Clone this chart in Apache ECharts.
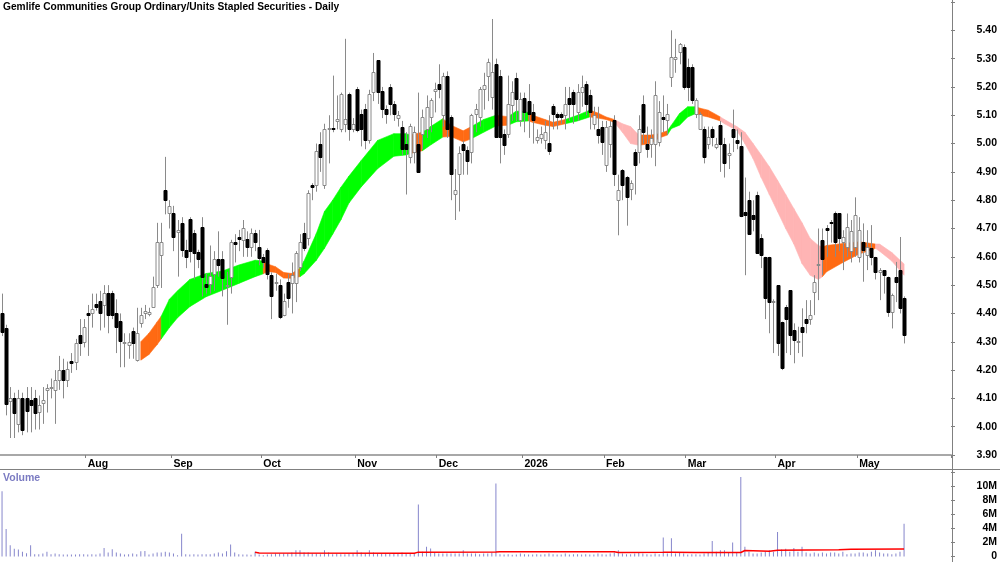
<!DOCTYPE html>
<html>
<head>
<meta charset="utf-8">
<title>Gemlife Communities Group - Daily</title>
<script src="https://cdn.jsdelivr.net/npm/echarts@6/dist/echarts.min.js"></script>
<style>
    html, body { margin: 0; padding: 0; background: #fff; }
    #chart { width: 1000px; height: 562px; }
</style>
</head>
<body>
<div id="chart"></div>
<script>
    // one row per trading day, early Jul 2025 -> 19 May 2026: [open, close, low, high]
    var candles = [
        [4.40, 4.335, 4.32, 4.47], [4.35, 4.08, 4.04, 4.36], [4.09, 4.10, 3.96, 4.14], [4.10, 4.05, 3.96, 4.12],
        [4.01, 4.10, 3.98, 4.13], [4.10, 3.99, 3.97, 4.12], [4.10, 4.055, 3.98, 4.14], [4.095, 4.075, 3.98, 4.14],
        [4.10, 4.05, 3.99, 4.13], [4.053, 4.077, 3.99, 4.11], [4.082, 4.094, 4.01, 4.14], [4.13, 4.135, 4.05, 4.15],
        [4.135, 4.14, 4.10, 4.17], [4.13, 4.165, 4.01, 4.20], [4.165, 4.20, 4.13, 4.25], [4.20, 4.165, 4.10, 4.24],
        [4.165, 4.205, 4.14, 4.23], [4.232, 4.224, 4.19, 4.26], [4.23, 4.294, 4.20, 4.31], [4.323, 4.294, 4.25, 4.38],
        [4.30, 4.353, 4.28, 4.38], [4.402, 4.394, 4.25, 4.43], [4.402, 4.414, 4.35, 4.47], [4.432, 4.423, 4.41, 4.47],
        [4.443, 4.402, 4.34, 4.48], [4.43, 4.473, 4.35, 4.50], [4.473, 4.394, 4.33, 4.50], [4.473, 4.394, 4.38, 4.48],
        [4.40, 4.353, 4.26, 4.45], [4.373, 4.302, 4.21, 4.40], [4.294, 4.30, 4.21, 4.33], [4.29, 4.30, 4.24, 4.33],
        [4.338, 4.294, 4.24, 4.35], [4.235, 4.332, 4.23, 4.42], [4.365, 4.395, 4.35, 4.42], [4.40, 4.41, 4.38, 4.43],
        [4.398, 4.405, 4.39, 4.42], [4.424, 4.494, 4.42, 4.53], [4.50, 4.653, 4.49, 4.72], [4.606, 4.653, 4.49, 4.72],
        [4.835, 4.80, 4.75, 4.953], [4.753, 4.78, 4.70, 4.80], [4.753, 4.67, 4.62, 4.78], [4.688, 4.695, 4.53, 4.73],
        [4.718, 4.624, 4.60, 4.74], [4.624, 4.60, 4.56, 4.66], [4.732, 4.62, 4.58, 4.74], [4.683, 4.612, 4.52, 4.695],
        [4.618, 4.594, 4.56, 4.625], [4.704, 4.53, 4.46, 4.74], [4.504, 4.494, 4.47, 4.54], [4.504, 4.532, 4.47, 4.64],
        [4.541, 4.594, 4.48, 4.62], [4.594, 4.57, 4.53, 4.69], [4.594, 4.524, 4.46, 4.62], [4.496, 4.502, 4.36, 4.547],
        [4.53, 4.653, 4.47, 4.66], [4.653, 4.644, 4.58, 4.68], [4.67, 4.662, 4.62, 4.695], [4.659, 4.70, 4.60, 4.73],
        [4.662, 4.633, 4.60, 4.69], [4.635, 4.683, 4.60, 4.70], [4.683, 4.653, 4.62, 4.695], [4.635, 4.595, 4.57, 4.695],
        [4.60, 4.582, 4.56, 4.61], [4.624, 4.541, 4.52, 4.63], [4.535, 4.46, 4.38, 4.545], [4.507, 4.512, 4.48, 4.54],
        [4.50, 4.388, 4.38, 4.52], [4.394, 4.445, 4.39, 4.47], [4.512, 4.453, 4.42, 4.54], [4.506, 4.535, 4.40, 4.58],
        [4.506, 4.612, 4.44, 4.62], [4.565, 4.653, 4.55, 4.68], [4.683, 4.63, 4.62, 4.72], [4.665, 4.826, 4.64, 4.835],
        [4.853, 4.845, 4.80, 4.86], [4.853, 4.975, 4.83, 5.00], [5.00, 4.953, 4.90, 5.04], [4.853, 5.053, 4.84, 5.07],
        [5.05, 5.055, 4.93, 5.10], [5.055, 5.05, 5.04, 5.24], [5.08, 5.088, 5.05, 5.17], [5.053, 5.174, 5.04, 5.18],
        [5.07, 5.085, 5.04, 5.37], [5.176, 5.053, 5.01, 5.18], [5.05, 5.07, 5.04, 5.09], [5.194, 5.047, 5.04, 5.20],
        [5.106, 5.053, 4.99, 5.12], [5.123, 5.011, 4.98, 5.14], [5.011, 5.174, 5.00, 5.19], [5.182, 5.253, 5.15, 5.32],
        [5.294, 5.182, 5.14, 5.295], [5.186, 5.123, 5.09, 5.20], [5.123, 5.106, 5.07, 5.135], [5.20, 5.14, 5.10, 5.21],
        [5.14, 5.106, 5.08, 5.15], [5.09, 5.102, 5.06, 5.115], [5.06, 4.982, 4.96, 5.08], [5.00, 4.982, 4.82, 5.04],
        [4.953, 5.061, 4.93, 5.07], [4.97, 5.04, 4.93, 5.06], [5.00, 4.90, 4.90, 5.18], [5.035, 5.094, 4.98, 5.12],
        [5.05, 5.13, 5.02, 5.17], [5.094, 5.153, 5.04, 5.16], [5.185, 5.194, 5.11, 5.215], [5.211, 5.194, 5.16, 5.28],
        [5.10, 5.24, 5.06, 5.25], [5.24, 5.053, 5.02, 5.255], [5.094, 4.894, 4.80, 5.10], [4.823, 4.835, 4.73, 4.91],
        [4.894, 4.965, 4.76, 4.99], [5.00, 4.976, 4.89, 5.01], [4.976, 4.94, 4.89, 4.99], [4.97, 5.10, 4.93, 5.105],
        [5.106, 5.123, 5.04, 5.14], [5.094, 5.194, 5.06, 5.20], [5.194, 5.206, 5.12, 5.25], [5.24, 5.288, 5.15, 5.30],
        [5.164, 5.253, 5.12, 5.44], [5.282, 5.023, 5.02, 5.30], [5.24, 5.023, 4.93, 5.26], [5.035, 4.994, 4.96, 5.05],
        [5.035, 5.141, 5.02, 5.24], [5.135, 5.182, 5.08, 5.22], [5.233, 5.159, 5.08, 5.25], [5.082, 5.159, 5.06, 5.18],
        [5.162, 5.111, 5.04, 5.18], [5.15, 5.106, 5.02, 5.21], [5.111, 5.082, 5.00, 5.14], [5.014, 5.023, 5.00, 5.05],
        [5.021, 5.033, 5.00, 5.06], [5.014, 5.041, 4.98, 5.08], [5.002, 4.974, 4.96, 5.10], [5.131, 5.106, 5.05, 5.14],
        [5.103, 5.094, 5.05, 5.11], [5.103, 5.094, 5.07, 5.11], [5.10, 5.141, 5.05, 5.20], [5.162, 5.141, 5.08, 5.20],
        [5.182, 5.141, 5.07, 5.19], [5.111, 5.182, 5.08, 5.21], [5.182, 5.20, 5.13, 5.24], [5.211, 5.141, 5.10, 5.22],
        [5.17, 5.111, 5.05, 5.19], [5.07, 5.10, 5.05, 5.13], [5.053, 5.029, 5.00, 5.13], [5.059, 5.006, 4.96, 5.08],
        [4.923, 5.059, 4.90, 5.08], [5.00, 5.061, 4.95, 5.08], [5.082, 4.894, 4.85, 5.10], [4.80, 4.835, 4.676, 4.89],
        [4.906, 4.853, 4.80, 4.91], [4.882, 4.812, 4.71, 4.885], [4.841, 4.861, 4.80, 4.87], [4.97, 4.923, 4.82, 4.98],
        [4.97, 5.053, 4.93, 5.10], [5.141, 5.041, 5.00, 5.17], [5.00, 4.98, 4.95, 5.06], [5.00, 5.02, 4.95, 5.05],
        [5.00, 5.17, 4.92, 5.22], [5.006, 5.112, 4.99, 5.15], [5.094, 5.085, 5.04, 5.17], [5.082, 5.106, 5.03, 5.14],
        [5.235, 5.306, 5.20, 5.40], [5.30, 5.306, 5.25, 5.37], [5.324, 5.353, 5.28, 5.355], [5.341, 5.20, 5.19, 5.35],
        [5.27, 5.20, 5.15, 5.30], [5.27, 5.153, 5.14, 5.28], [5.106, 5.153, 5.09, 5.16], [5.053, 5.106, 5.05, 5.11],
        [5.053, 4.953, 4.93, 5.06], [5.00, 5.024, 4.98, 5.06], [5.053, 5.024, 4.99, 5.06], [4.988, 5.00, 4.98, 5.02],
        [5.065, 5.00, 4.90, 5.08], [5.00, 4.93, 4.88, 5.02], [4.96, 4.965, 4.91, 5.00], [5.053, 5.024, 4.97, 5.12],
        [5.014, 5.003, 4.98, 5.05], [4.99, 4.745, 4.74, 5.04], [4.76, 4.747, 4.535, 4.88], [4.80, 4.682, 4.68, 4.83],
        [4.747, 4.735, 4.69, 4.80], [4.82, 4.612, 4.61, 4.83], [4.665, 4.606, 4.56, 4.68], [4.60, 4.453, 4.38, 4.60],
        [4.60, 4.441, 4.33, 4.60], [4.44, 4.443, 4.26, 4.45], [4.50, 4.294, 4.25, 4.50], [4.371, 4.206, 4.20, 4.371],
        [4.424, 4.382, 4.26, 4.43], [4.482, 4.324, 4.253, 4.482], [4.341, 4.306, 4.224, 4.365], [4.298, 4.302, 4.26, 4.353],
        [4.353, 4.335, 4.247, 4.418], [4.382, 4.365, 4.33, 4.447], [4.382, 4.394, 4.36, 4.447], [4.476, 4.512, 4.394, 4.535],
        [4.57, 4.576, 4.447, 4.70], [4.659, 4.594, 4.535, 4.70], [4.70, 4.694, 4.60, 4.712], [4.724, 4.718, 4.65, 4.73],
        [4.753, 4.653, 4.60, 4.76], [4.753, 4.665, 4.62, 4.753], [4.653, 4.67, 4.553, 4.694], [4.635, 4.706, 4.60, 4.753],
        [4.62, 4.69, 4.58, 4.73], [4.635, 4.747, 4.60, 4.81], [4.60, 4.694, 4.58, 4.74], [4.653, 4.624, 4.512, 4.718],
        [4.606, 4.635, 4.553, 4.694], [4.63, 4.60, 4.57, 4.712], [4.60, 4.547, 4.52, 4.60], [4.547, 4.553, 4.447, 4.56],
        [4.553, 4.535, 4.47, 4.553], [4.53, 4.406, 4.388, 4.53], [4.406, 4.465, 4.347, 4.47], [4.53, 4.512, 4.44, 4.582],
        [4.553, 4.418, 4.40, 4.67], [4.453, 4.324, 4.294, 4.46]
    ];

    // daily volume, millions of units
    var volumes = [
        9.3, 3.9, 1.6, 1.1, 1.0, 0.66, 0.47, 1.6, 0.33, 0.33, 0.42, 0.66, 0.33, 0.42, 0.33, 0.28, 0.28, 0.28, 0.28, 0.33,
        0.33, 0.28, 0.33, 0.28, 0.42, 1.2, 0.57, 1.04, 0.57, 0.42, 0.28, 0.33, 0.42, 0.33, 0.75, 0.8, 0.28, 0.42, 0.57, 0.57,
        0.66, 0.57, 0.42, 0.19, 3.25, 0.33, 0.28, 0.33, 0.28, 0.33, 0.33, 0.33, 0.42, 0.57, 0.42, 0.75, 1.7, 0.57, 0.33, 0.28,
        0.28, 0.24, 0.66, 0.28, 0.19, 0.28, 0.33, 0.42, 0.42, 0.42, 0.42, 0.57, 0.9, 0.9, 0.57, 0.57, 0.42, 0.42, 0.33, 0.9,
        0.57, 0.33, 0.42, 0.33, 0.33, 0.42, 0.42, 0.9, 0.57, 0.42, 0.9, 0.57, 0.42, 0.42, 0.42, 0.42, 0.42, 0.42, 0.57, 0.42,
        0.42, 0.42, 7.4, 0.66, 1.37, 1.13, 0.57, 0.42, 0.42, 0.42, 0.42, 0.42, 0.42, 0.9, 0.42, 0.42, 0.42, 0.33, 0.42, 0.42,
        0.57, 10.4, 0.33, 0.28, 0.33, 0.24, 0.28, 0.42, 0.33, 0.28, 0.28, 0.33, 0.28, 0.33, 0.42, 0.33, 0.28, 0.28, 0.42, 0.28,
        0.33, 0.33, 0.28, 0.33, 0.28, 0.28, 0.42, 0.33, 0.28, 0.42, 0.57, 0.9, 0.42, 0.33, 0.33, 0.42, 0.57, 0.42, 0.33, 0.28,
        0.42, 0.33, 2.7, 0.42, 2.6, 0.42, 0.57, 0.42, 0.28, 0.33, 0.33, 0.28, 0.42, 0.57, 2.2, 0.66, 0.9, 0.9, 0.57, 2.0,
        0.57, 11.3, 1.4, 0.66, 0.42, 0.42, 0.57, 0.66, 0.9, 0.66, 3.5, 1.0, 1.1, 0.66, 1.2, 0.66, 1.4, 0.57, 0.42, 0.57,
        0.42, 0.57, 0.42, 0.57, 0.57, 0.42, 0.66, 0.33, 0.42, 0.42, 0.57, 0.57, 0.42, 0.66, 0.9, 0.57, 0.42, 0.42, 0.33, 0.42,
        0.66, 4.67
    ];

    // red volume average: [bar, millions]
    var volAvg = [
        [62, 0.6], [63, 0.5], [101, 0.47], [102, 0.62], [121, 0.64], [122, 0.68], [150, 0.66], [151, 0.57],
        [162, 0.6], [164, 0.62], [170, 0.57], [181, 0.57], [182, 0.85], [188, 0.75], [190, 0.9], [205, 0.95],
        [208, 1.02], [221, 1.05]
    ];

    // trend ribbon edges: [bar, lower, upper, state of the piece starting here]
    // g = up, o = mixed, p = down
    var ribbon = [
        [34, 4.235, 4.30, 'o'], [36, 4.255, 4.33, 'o'], [38, 4.29, 4.37, 'o'], [39, 4.31, 4.39, 'g'],
        [41, 4.35, 4.45, 'g'], [43, 4.385, 4.48, 'g'], [46, 4.424, 4.52, 'g'], [50, 4.459, 4.541, 'g'],
        [54, 4.482, 4.55, 'g'], [58, 4.506, 4.571, 'g'], [62, 4.53, 4.588, 'g'], [64, 4.54, 4.585, 'o'],
        [65, 4.548, 4.575, 'o'], [67, 4.545, 4.565, 'o'], [69, 4.525, 4.545, 'o'], [71, 4.524, 4.541, 'o'],
        [73, 4.53, 4.56, 'g'], [74, 4.54, 4.585, 'g'], [77, 4.588, 4.682, 'g'], [79, 4.63, 4.76, 'g'],
        [81, 4.68, 4.80, 'g'], [83, 4.73, 4.845, 'g'], [85, 4.79, 4.885, 'g'], [88, 4.847, 4.94, 'g'],
        [92, 4.911, 5.011, 'g'], [96, 4.955, 5.035, 'g'], [99, 4.96, 5.035, 'g'], [100, 4.965, 5.03, 'o'],
        [103, 4.975, 5.04, 'g'], [105, 4.995, 5.06, 'g'], [108, 5.023, 5.088, 'o'], [110, 5.025, 5.065, 'o'],
        [113, 5.006, 5.045, 'o'], [115, 5.017, 5.06, 'g'], [118, 5.04, 5.085, 'g'], [121, 5.062, 5.10, 'o'],
        [124, 5.065, 5.095, 'g'], [126, 5.077, 5.115, 'g'], [129, 5.08, 5.11, 'o'], [130, 5.075, 5.10, 'o'],
        [133, 5.065, 5.085, 'o'], [135, 5.06, 5.075, 'o'], [138, 5.07, 5.085, 'g'], [141, 5.08, 5.10, 'g'],
        [144, 5.094, 5.118, 'o'], [146, 5.09, 5.108, 'o'], [148, 5.085, 5.094, 'o'], [150, 5.075, 5.085, 'p'],
        [152, 5.04, 5.07, 'p'], [154, 5.0, 5.06, 'p'], [156, 4.994, 5.03, 'o'], [159, 5.0, 5.03, 'o'],
        [161, 5.02, 5.035, 'o'], [163, 5.03, 5.045, 'g'], [164, 5.053, 5.065, 'g'], [166, 5.065, 5.106, 'g'],
        [168, 5.094, 5.13, 'g'], [170, 5.106, 5.13, 'o'], [171, 5.10, 5.125, 'o'], [173, 5.094, 5.118, 'o'],
        [176, 5.08, 5.094, 'p'], [177, 5.07, 5.085, 'p'], [180, 5.047, 5.06, 'p'], [182, 5.0, 5.04, 'p'],
        [184, 4.947, 5.0, 'p'], [186, 4.88, 4.96, 'p'], [188, 4.82, 4.918, 'p'], [190, 4.76, 4.87, 'p'],
        [192, 4.70, 4.82, 'p'], [194, 4.645, 4.77, 'p'], [196, 4.576, 4.72, 'p'], [198, 4.535, 4.665, 'p'],
        [200, 4.52, 4.64, 'p'], [201, 4.53, 4.635, 'o'], [202, 4.547, 4.64, 'o'], [206, 4.58, 4.647, 'o'],
        [210, 4.61, 4.653, 'o'], [213, 4.624, 4.647, 'o'], [214, 4.63, 4.645, 'p'], [215, 4.62, 4.645, 'p'],
        [218, 4.585, 4.615, 'p'], [221, 4.535, 4.575, 'p']
    ];

    // first trading day of each month (bar index) and its label
    var monthTicks = [21, 42, 64, 87, 107, 128, 148, 168, 190, 210];
    var monthLabels = ['Aug', 'Sep', 'Oct', 'Nov', 'Dec', '2026', 'Feb', 'Mar', 'Apr', 'May'];

    var SLOTS = 233; // bars + empty room on the right
    var FONT = '"Liberation Sans", Arial, sans-serif';
    var ribbonColours = { g: '#00ff00', o: '#ff6a13', p: '#ffb4b4' };

    var cats = [];
    for (var i = 0; i < SLOTS; i++) cats.push(String(i));

    var candleData = candles.map(function (c, i) { return [i, c[0], c[1], c[2], c[3]]; });
    var ribbonData = ribbon.map(function (r) { return [r[0], r[1], r[2]]; });

    function renderCandle(params, api) {
        var i = api.value(0);
        var o = api.value(1), c = api.value(2), l = api.value(3), h = api.value(4);
        var pO = api.coord([i, o]), pC = api.coord([i, c]);
        var pL = api.coord([i, l]), pH = api.coord([i, h]);
        var cx = Math.round(pO[0]);
        var up = c >= o;
        var top = Math.round(Math.min(pO[1], pC[1])) + 0.5;
        var bot = Math.round(Math.max(pO[1], pC[1])) + 0.5;
        if (bot - top < 1) bot = top + 1;
        return {
            type: 'group',
            children: [{
                type: 'line',
                shape: { x1: cx + 0.5, y1: pH[1], x2: cx + 0.5, y2: pL[1] },
                style: { stroke: '#8a8a8a', lineWidth: 1 }
            }, {
                type: 'rect',
                shape: { x: cx - 1, y: top, width: 3, height: bot - top },
                style: { fill: up ? '#fff' : '#000', stroke: up ? '#8a8a8a' : '#000', lineWidth: 1 }
            }]
        };
    }

    function renderRibbon(params, api) {
        var k = params.dataIndex;
        var a = ribbon[k], b = ribbon[k + 1];
        if (!b) return;
        var col = ribbonColours[a[3]];
        return {
            type: 'polygon',
            shape: {
                points: [
                    api.coord([a[0], a[1]]), api.coord([b[0], b[1]]),
                    api.coord([b[0], b[2]]), api.coord([a[0], a[2]])
                ]
            },
            style: { fill: col, stroke: col, lineWidth: 0.6 }
        };
    }

    var chart = echarts.init(document.getElementById('chart'), null, { renderer: 'canvas' });

    chart.setOption({
        animation: false,
        backgroundColor: '#fff',
        textStyle: { fontFamily: FONT },
        grid: [
            { left: 0, right: 48, top: 2, bottom: 107 },
            { left: 0, right: 48, top: 469, bottom: 5 }
        ],
        xAxis: [{
            gridIndex: 0,
            type: 'category',
            data: cats,
            boundaryGap: true,
            axisLine: { lineStyle: { color: '#a8a8a8', width: 2 } },
            axisTick: {
                show: true,
                length: 3,
                interval: function (idx) { return monthTicks.indexOf(idx) >= 0; },
                lineStyle: { color: '#808080' }
            },
            axisLabel: {
                interval: function (idx) { return monthTicks.indexOf(idx) >= 0; },
                formatter: function (val) { return monthLabels[monthTicks.indexOf(+val)] || ''; },
                align: 'left',
                margin: 4,
                color: '#000',
                fontWeight: 'bold',
                fontSize: 10.5,
                fontFamily: FONT
            },
            splitLine: { show: false }
        }, {
            gridIndex: 1,
            type: 'category',
            data: cats,
            boundaryGap: true,
            axisLine: { show: false },
            axisTick: { show: false },
            axisLabel: { show: false },
            splitLine: { show: false }
        }],
        yAxis: [{
            gridIndex: 0,
            type: 'value',
            position: 'right',
            min: 3.9,
            max: 5.5,
            interval: 0.1,
            axisLine: { show: false },
            axisTick: { show: true, length: 4, lineStyle: { color: '#808080' } },
            splitLine: { show: false },
            axisLabel: {
                margin: 46,
                align: 'right',
                color: '#000',
                fontWeight: 'bold',
                fontSize: 10.5,
                fontFamily: FONT,
                formatter: function (v) { return v > 5.45 ? '' : v.toFixed(2); }
            }
        }, {
            gridIndex: 1,
            type: 'value',
            position: 'right',
            min: 0,
            max: 12.45,
            interval: 2,
            axisLine: { show: false },
            axisTick: { show: true, length: 4, lineStyle: { color: '#808080' } },
            splitLine: { show: false },
            axisLabel: {
                margin: 46,
                align: 'right',
                color: '#000',
                fontWeight: 'bold',
                fontSize: 10.5,
                fontFamily: FONT,
                formatter: function (v) { return v === 0 ? '0' : (v > 11 ? '' : v + 'M'); }
            }
        }],
        series: [{
            name: 'ribbon',
            type: 'custom',
            xAxisIndex: 0,
            yAxisIndex: 0,
            renderItem: renderRibbon,
            data: ribbonData,
            encode: { x: 0, y: [1, 2] },
            silent: true,
            z: 2
        }, {
            name: 'price',
            type: 'custom',
            xAxisIndex: 0,
            yAxisIndex: 0,
            renderItem: renderCandle,
            data: candleData,
            encode: { x: 0, y: [1, 2, 3, 4] },
            z: 3
        }, {
            name: 'Volume',
            type: 'bar',
            xAxisIndex: 1,
            yAxisIndex: 1,
            data: volumes,
            barWidth: 1,
            itemStyle: { color: '#8686cc' },
            z: 2
        }, {
            name: 'Volume average',
            type: 'line',
            xAxisIndex: 1,
            yAxisIndex: 1,
            data: volAvg,
            showSymbol: false,
            symbol: 'none',
            lineStyle: { color: '#ff0000', width: 1.5 },
            z: 3
        }],
        graphic: [{
            type: 'text',
            left: 3,
            top: 2,
            style: {
                text: 'Gemlife Communities Group Ordinary/Units Stapled Securities - Daily',
                fill: '#000',
                font: 'bold 10.2px ' + FONT
            }
        }, {
            type: 'text',
            left: 3,
            top: 473,
            style: { text: 'Volume', fill: '#7b7bc2', font: 'bold 10.5px ' + FONT }
        }, {
            type: 'line',
            shape: { x1: 952.5, y1: 0, x2: 952.5, y2: 562 },
            style: { stroke: '#808080', lineWidth: 1 }
        }, {
            type: 'line',
            shape: { x1: 0, y1: 469.5, x2: 1000, y2: 469.5 },
            style: { stroke: '#808080', lineWidth: 1 }
        }]
    });
</script>
</body>
</html>
